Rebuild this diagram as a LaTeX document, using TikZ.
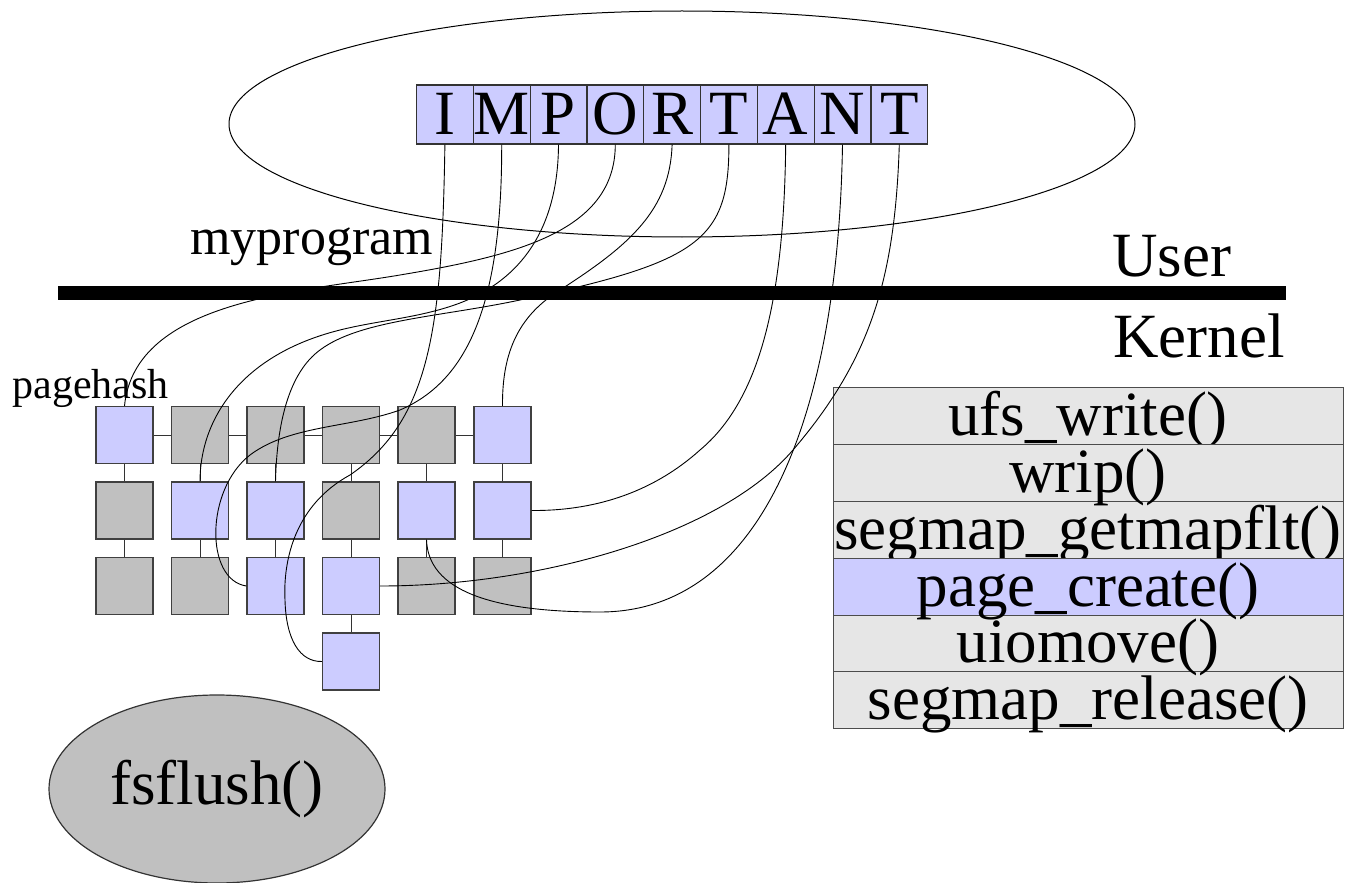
\documentclass[tikz,border=0pt]{standalone}
\usepackage{fontspec}
\setmainfont{Liberation Serif}
\usetikzlibrary{shapes.geometric}
\definecolor{pblue}{RGB}{204,204,255}
\definecolor{pgray}{RGB}{192,192,192}
\definecolor{lgray}{RGB}{230,230,230}
\begin{document}
\begin{tikzpicture}[x=0.5pt,y=-0.5pt,
  big/.style={font=\fontsize{31.5}{36}\selectfont},
  letterbox/.style={draw=black!80,fill=pblue,line width=0.6pt,minimum width=28.4pt,
    minimum height=29.5pt,inner sep=0pt,text height=25pt,text depth=4.5pt,big},
  pagebox/.style={draw=black!75,line width=0.6pt,minimum size=28.5pt,inner sep=0pt},
  freepg/.style={pagebox,fill=pgray},
  usedpg/.style={pagebox,fill=pblue},
  frame/.style={draw=black!70,line width=0.5pt,fill=lgray,minimum width=255pt,
    minimum height=28.5pt,inner sep=0pt,text height=24pt,text depth=4.5pt,big},
  link/.style={draw=black!80,line width=0.5pt},
  wire/.style={draw=black,line width=0.45pt}]
\useasboundingbox (0,0) rectangle (1345,883);

% user process
\node[ellipse,draw=black,line width=0.5pt,minimum width=453pt,minimum height=113pt,inner sep=0pt] (prog) at (682,124) {};
\node[letterbox] (L1) at (444.9,114.5) {I};
\node[letterbox] (L2) at (501.7,114.5) {M};
\node[letterbox] (L3) at (558.5,114.5) {P};
\node[letterbox] (L4) at (615.3,114.5) {O};
\node[letterbox] (L5) at (672.1,114.5) {R};
\node[letterbox] (L6) at (728.9,114.5) {T};
\node[letterbox] (L7) at (785.7,114.5) {A};
\node[letterbox] (L8) at (842.5,114.5) {N};
\node[letterbox] (L9) at (899.3,114.5) {T};

\node[anchor=base west,inner sep=0pt,font=\fontsize{26}{30}\selectfont] (myprog) at (190,254) {myprogram};

% user/kernel boundary
\fill[black] (58,286) rectangle (1286,300);
\node[anchor=base west,inner sep=0pt,big] (user) at (1112,277) {User};
\node[anchor=base west,inner sep=0pt,big] (kernel) at (1113,357) {Kernel};

% page hash
\node[anchor=base west,inner sep=0pt,font=\fontsize{21}{25}\selectfont] (phash) at (12,398) {pagehash};

\node[usedpg] (g11) at (124.5,435) {};
\node[freepg] (g12) at (200,435) {};
\node[freepg] (g13) at (275.5,435) {};
\node[freepg] (g14) at (351,435) {};
\node[freepg] (g15) at (426.5,435) {};
\node[usedpg] (g16) at (502.5,435) {};
\node[freepg] (g21) at (124.5,510.5) {};
\node[usedpg] (g22) at (200,510.5) {};
\node[usedpg] (g23) at (275.5,510.5) {};
\node[freepg] (g24) at (351,510.5) {};
\node[usedpg] (g25) at (426.5,510.5) {};
\node[usedpg] (g26) at (502.5,510.5) {};
\node[freepg] (g31) at (124.5,586) {};
\node[freepg] (g32) at (200,586) {};
\node[usedpg] (g33) at (275.5,586) {};
\node[usedpg] (g34) at (351,586) {};
\node[freepg] (g35) at (426.5,586) {};
\node[freepg] (g36) at (502.5,586) {};
\node[usedpg] (g44) at (351,661.5) {};

\foreach \a/\b in {11/12,12/13,13/14,14/15,15/16}
  \draw[link] (g\a.east) -- (g\b.west);
\foreach \c in {1,...,6} {
  \draw[link] (g1\c.south) -- (g2\c.north);
  \draw[link] (g2\c.south) -- (g3\c.north);
}
\draw[link] (g34.south) -- (g44.north);

% kernel call stack
\node[frame] (s3) at (1088,529.5) {segmap\_getmapflt()};
\node[frame] (s1) at (1088,415.5) {ufs\_write()};
\node[frame] (s2) at (1088,472.5) {wrip()};
\node[frame] (s6) at (1088,699.5) {segmap\_release()};
\node[frame] (s5) at (1088,643) {uiomove()};
\node[frame,fill=pblue] (s4) at (1088,586.5) {page\_create()};

% flush daemon
\node[ellipse,draw=black!80,line width=0.6pt,fill=pgray,minimum width=168pt,minimum height=94pt,inner sep=0pt,big] (flush) at (217,789) {fsflush()};

% letters mapped to pages
\draw[wire] (L1.south) .. controls (442,330) and (430,420) .. (350,475)
  .. controls (295,505) and (283,560) .. (285,600)
  .. controls (286,640) and (300,662) .. (g44.west);
\draw[wire] (L2.south) .. controls (502,300) and (470,380) .. (400,410)
  .. controls (350,428) and (290,425) .. (250,455)
  .. controls (205,490) and (205,580) .. (g33.west);
\draw[wire] (L3.south) .. controls (558,230) and (520,280) .. (460,303)
  .. controls (420,318) and (380,320) .. (340,330)
  .. controls (240,355) and (200,420) .. (g22.north);
\draw[wire] (L4.south) .. controls (615,230) and (520,255) .. (400,275)
  .. controls (300,292) and (135,300) .. (g11.north);
\draw[wire] (L5.south) .. controls (670,210) and (630,245) .. (560,290)
  .. controls (520,315) and (502,350) .. (g16.north);
\draw[wire] (L6.south) .. controls (729,240) and (700,262) .. (520,300)
  .. controls (440,317) and (360,320) .. (320,350)
  .. controls (290,372) and (277,420) .. (g23.north);
\draw[wire] (L7.south) .. controls (784,300) and (760,400) .. (700,450)
  .. controls (650,495) and (590,511) .. (g26.east);
\draw[wire] (L8.south) .. controls (838,420) and (760,612) .. (600,612)
  .. controls (490,612) and (428,590) .. (g25.south);
\draw[wire] (L9.south) .. controls (895,280) and (870,360) .. (793,450)
  .. controls (720,535) and (540,586) .. (g34.east);
\end{tikzpicture}
\end{document}
